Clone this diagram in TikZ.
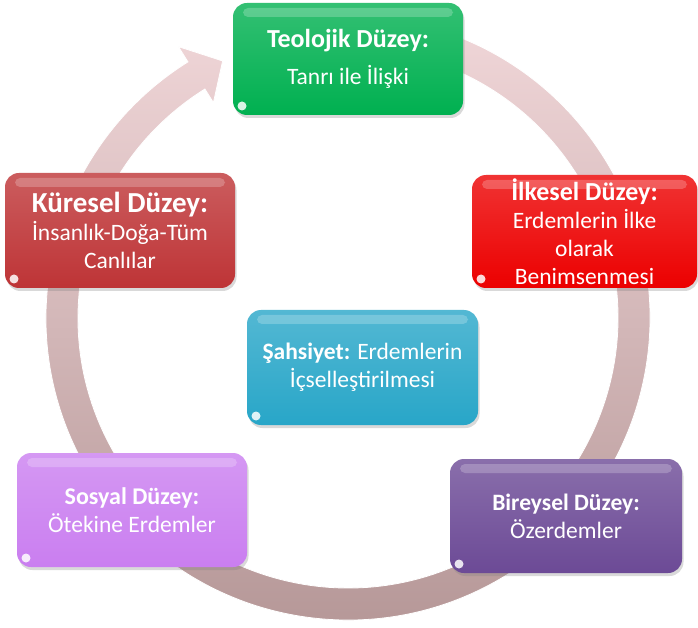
\documentclass[tikz,border=0pt]{standalone}
\usepackage{fontspec}
\setmainfont{Carlito}
\usetikzlibrary{shadows}

\definecolor{teogreen}{RGB}{0,176,80}
\definecolor{ilkred}{RGB}{236,0,0}
\definecolor{kurred}{RGB}{190,52,54}
\definecolor{sahteal}{RGB}{40,166,200}
\definecolor{soslilac}{RGB}{202,126,240}
\definecolor{birpurple}{RGB}{108,74,150}
\definecolor{ringtop}{RGB}{240,214,216}
\definecolor{ringbot}{RGB}{180,150,150}

\begin{document}
\begin{tikzpicture}[x=1pt, y=1pt,
    level/.style={rounded corners=14pt, text=white, align=center,
      top color=#1!80!white, bottom color=#1, inner sep=0pt,
      drop shadow={opacity=0.3, shadow xshift=1.5pt, shadow yshift=-3pt},
      path picture={
        \fill[white, opacity=0.22, rounded corners=5pt]
          ([xshift=10pt, yshift=-5pt]path picture bounding box.north west) rectangle
          ([xshift=-10pt, yshift=-14pt]path picture bounding box.north east);
        \fill[white, opacity=0.85]
          ([xshift=9pt, yshift=9pt]path picture bounding box.south west) circle (4.5pt);
      }},
    body/.style={font=\fontsize{23.5}{28}\selectfont}]
  \path[use as bounding box] (0,0) rectangle (698,627);

  % circular arrow
  \path[shift={(348,309)}, top color=ringtop, bottom color=ringbot, draw=white, line width=0.8pt]
    (80:302) arc[start angle=80, end angle=-238, radius=302]
    -- (-238:320) -- (-244:286) -- (-238:254) -- (-238:270)
    arc[start angle=-238, end angle=80, radius=270] -- cycle;

  \node[level=teogreen, minimum width=230pt, minimum height=112pt, body] (teo) at (348,568)
    {{\fontsize{26}{28}\selectfont\bfseries Teolojik Düzey:}\\[9pt] Tanrı ile İlişki};
  \node[level=ilkred, minimum width=225pt, minimum height=113pt, body] (ilk) at (584.5,395.5)
    {{\fontsize{26}{28}\selectfont\bfseries İlkesel Düzey:}\\ Erdemlerin İlke\\ olarak\\ Benimsenmesi};
  \node[level=kurred, minimum width=230pt, minimum height=115pt, body] (kur) at (120,396.5)
    {{\fontsize{29}{30}\selectfont\bfseries Küresel Düzey:}\\ İnsanlık-Doğa-Tüm\\ Canlılar};
  \node[level=sahteal, minimum width=231pt, minimum height=115pt, body] (sah) at (362.5,259.5)
    {{\bfseries Şahsiyet:} Erdemlerin\\ İçselleştirilmesi};
  \node[level=soslilac, minimum width=230pt, minimum height=114pt, body] (sos) at (132,117)
    {{\fontsize{24}{28}\selectfont\bfseries Sosyal Düzey:}\\ Ötekine Erdemler};
  \node[level=birpurple, minimum width=232pt, minimum height=114pt, body] (bir) at (566,111)
    {{\fontsize{23.5}{28}\selectfont\bfseries Bireysel Düzey:}\\ Özerdemler};
\end{tikzpicture}
\end{document}
